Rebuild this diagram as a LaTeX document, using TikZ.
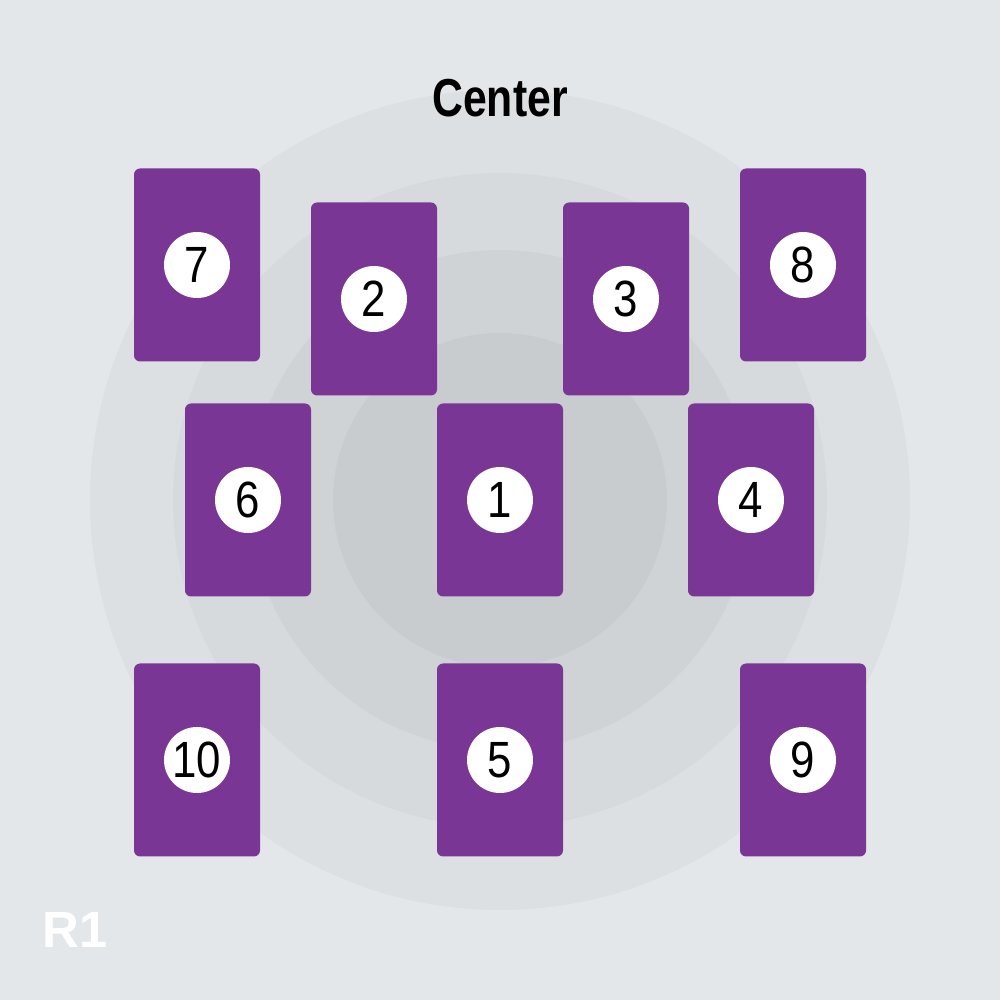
\documentclass[tikz,border=0pt]{standalone}
\usepackage{fontspec}
\setmainfont{Liberation Sans}
\usepackage{xcolor}
\usetikzlibrary{positioning}

\definecolor{bggray}{HTML}{E4E7EA}
\definecolor{ringa}{HTML}{DDE0E3}
\definecolor{ringb}{HTML}{D7DADD}
\definecolor{ringc}{HTML}{D0D3D6}
\definecolor{ringd}{HTML}{C9CCCF}
\definecolor{cardpurple}{HTML}{7A3694}

\newcommand{\cardno}[1]{\scalebox{0.86}[1]{#1}}

\begin{document}
\begin{tikzpicture}[x=0.1mm, y=0.1mm,
    card/.style={fill=cardpurple, rounded corners=0.6mm, minimum width=12.6mm, minimum height=19.3mm, inner sep=0pt},
    num/.style={circle, fill=white, minimum size=6.6mm, inner sep=0pt, font=\fontsize{14.5}{15}\selectfont, text=black}]
    % background and rings
    \fill[bggray] (0,0) rectangle (1000,1000);
    \fill[ringa] (500,500) circle (410);
    \fill[ringb] (500,500) circle (327);
    \fill[ringc] (500,500) circle (250);
    \fill[ringd] (500,500) circle (167);

    \node (title) at (500,902) {\scalebox{0.8}[1]{\fontsize{15.2}{16}\selectfont\bfseries Center}};

    \node[card] (c7) at (197,735) {};
    \node[card] (c2) at (374,701) {};
    \node[card] (c3) at (626,701) {};
    \node[card] (c8) at (803,735) {};
    \node[card] (c6) at (248,500) {};
    \node[card] (c1) at (500,500) {};
    \node[card] (c4) at (751,500) {};
    \node[card] (c10) at (197,240) {};
    \node[card] (c5) at (500,240) {};
    \node[card] (c9) at (803,240) {};

    \node[num] (n7) at (c7) {\cardno{7}};
    \node[num] (n2) at (c2) {\cardno{2}};
    \node[num] (n3) at (c3) {\cardno{3}};
    \node[num] (n8) at (c8) {\cardno{8}};
    \node[num] (n6) at (c6) {\cardno{6}};
    \node[num] (n1) at (c1) {\cardno{1}};
    \node[num] (n4) at (c4) {\cardno{4}};
    \node[num] (n10) at (c10) {\cardno{10}};
    \node[num] (n5) at (c5) {\cardno{5}};
    \node[num] (n9) at (c9) {\cardno{9}};

    \node[text=white] (tag) at (75,70) {\fontsize{14.5}{16}\selectfont\bfseries R1};
\end{tikzpicture}
\end{document}
